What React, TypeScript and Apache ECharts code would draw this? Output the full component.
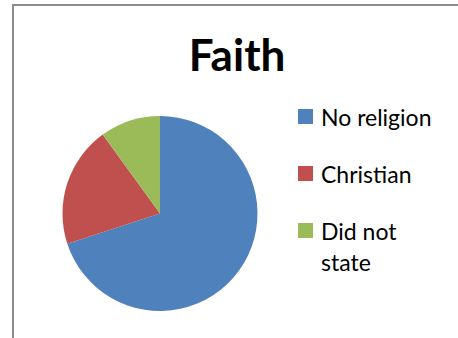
import React, { useEffect, useRef } from "react";
import * as echarts from "echarts";

const categories = ["No religion", "Christian", "Did not state"];
const legendLabels = ["No religion", "Christian", "Did not\nstate"];
const values = [70, 20, 10];
const colors = ["#4F81BD", "#C0504D", "#9BBB59"];
const titleText = "Faith";

export default function App() {
  const ref = useRef<HTMLDivElement>(null);
  useEffect(() => {
    if (!ref.current) return;
    const chart = echarts.init(ref.current, undefined, { renderer: "svg" });
    const font = "Lato, 'Open Sans', sans-serif";
    const legendCommon = {
      orient: "vertical",
      left: 298,
      height: 600,
      width: 160,
      padding: 0,
      itemWidth: 15,
      itemHeight: 15,
      itemGap: 26,
      icon: "rect",
      selectedMode: false,
      textStyle: { fontFamily: font, fontSize: 23, color: "#000", lineHeight: 31, padding: [0, 0, 0, 3] },
    };
    chart.setOption({
      animation: false,
      backgroundColor: "#ffffff",
      title: {
        text: titleText,
        left: 237,
        top: 32,
        textAlign: "center",
        padding: 0,
        textStyle: { fontFamily: font, fontWeight: "bold", fontSize: 44, color: "#000" },
      },
      legend: [
        {
          ...legendCommon,
          top: 101,
          formatter: (name: string) => legendLabels[categories.indexOf(name)],
          data: categories.slice(0, 2),
        },
        {
          ...legendCommon,
          top: 184,
          // leading blank line keeps the marker level with the first text line
          formatter: (name: string) => "\n" + legendLabels[categories.indexOf(name)],
          data: categories.slice(2),
        },
      ],
      graphic: [
        {
          type: "rect",
          shape: { x: 13, y: 5, width: 600, height: 500 },
          style: { fill: "none", stroke: "#8c8c8c", lineWidth: 2 },
          silent: true,
        },
      ],
      series: [
        {
          type: "pie",
          center: [160, 213.5],
          radius: 97.5,
          startAngle: 90,
          clockwise: true,
          label: { show: false },
          labelLine: { show: false },
          emphasis: { disabled: true },
          itemStyle: { borderWidth: 0 },
          data: categories.map((c, i) => ({
            name: c,
            value: values[i],
            itemStyle: { color: colors[i] },
          })),
        },
      ],
    });
    return () => chart.dispose();
  }, []);
  return (
    <div
      ref={ref}
      style={{ position: "absolute", left: 0, top: 0, width: 458, height: 338 }}
    />
  );
}
